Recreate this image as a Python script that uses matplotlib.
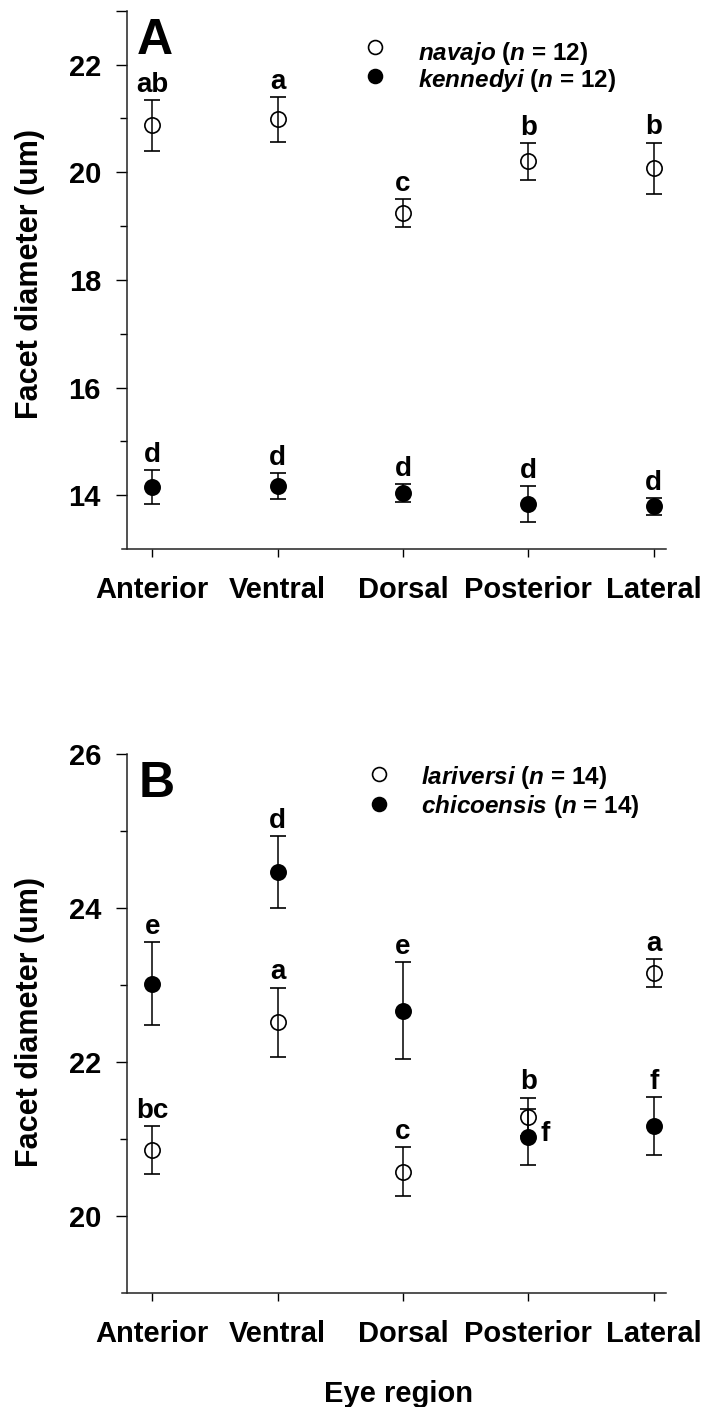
import matplotlib.pyplot as plt
from matplotlib.ticker import FixedLocator

# --- data ---
regions = ["Anterior", "Ventral", "Dorsal", "Posterior", "Lateral"]

# panel A
navajo_mean = [20.87, 20.98, 19.24, 20.20, 20.07]
navajo_se = [0.47, 0.41, 0.26, 0.34, 0.48]
navajo_grp = ["ab", "a", "c", "b", "b"]
kennedyi_mean = [14.15, 14.17, 14.04, 13.84, 13.79]
kennedyi_se = [0.32, 0.24, 0.16, 0.33, 0.16]
kennedyi_grp = ["d", "d", "d", "d", "d"]
n_a = [12, 12]

# panel B
lariversi_mean = [20.86, 22.52, 20.58, 21.29, 23.16]
lariversi_se = [0.31, 0.45, 0.32, 0.25, 0.18]
lariversi_grp = ["bc", "a", "c", "b", "a"]
chicoensis_mean = [23.02, 24.47, 22.67, 21.03, 21.17]
chicoensis_se = [0.54, 0.47, 0.63, 0.36, 0.38]
chicoensis_grp = ["e", "d", "e", "f", "f"]
n_b = [14, 14]

plt.rcParams['font.family'] = ['Liberation Sans', 'DejaVu Sans']
plt.rcParams['font.weight'] = 'bold'
plt.rcParams['mathtext.fontset'] = 'custom'
plt.rcParams['mathtext.it'] = 'Liberation Sans:italic:bold'
plt.rcParams['mathtext.rm'] = 'Liberation Sans:bold'

W, H = 707, 1407
fig = plt.figure(figsize=(W / 100, H / 100), dpi=100)


def fx(x):
    return x / W


def fy(y):
    return 1 - y / H


x = list(range(1, len(regions) + 1))


def draw_series(ax, mean, se, grp, filled, right_labels=()):
    ax.errorbar(x, mean, yerr=se, fmt='o', ms=11, mew=1.2,
                mfc='k' if filled else 'none', mec='k',
                ecolor='k', elinewidth=1.1, capsize=5.75, capthick=1.1,
                clip_on=False, zorder=3)
    for i, (m, s, g) in enumerate(zip(mean, se, grp)):
        if i in right_labels:
            ax.annotate(g, (x[i], m), xytext=(8.5, -2.6), textcoords='offset points',
                        ha='left', va='baseline', fontsize=20, fontweight='bold')
        else:
            ax.annotate(g, (x[i], m + s), xytext=(0, 6), textcoords='offset points',
                        ha='center', va='baseline', fontsize=20, fontweight='bold')


def style_axes(ax, ylim, major, labels, minor):
    ax.set_xlim(0.8, 5.1)
    ax.set_ylim(*ylim)
    ax.spines['top'].set_visible(False)
    ax.spines['right'].set_visible(False)
    ax.spines['bottom'].set_bounds(0.755, 5.1)
    for s in ('left', 'bottom'):
        ax.spines[s].set_linewidth(1.1)
        ax.spines[s].set_color('#222222')
    ax.set_xticks(x)
    ax.set_xticklabels(regions, fontsize=21, fontweight='bold')
    ax.yaxis.set_major_locator(FixedLocator(major))
    ax.set_yticklabels(labels, fontsize=21, fontweight='bold')
    ax.yaxis.set_minor_locator(FixedLocator(minor))
    ax.tick_params(axis='y', which='major', direction='out', length=8, width=1, pad=11)
    ax.tick_params(axis='y', which='minor', direction='out', length=5, width=1)
    ax.tick_params(axis='x', which='major', direction='out', length=5.5, width=1, pad=14)


# ---------------- panel A ----------------
axA = fig.add_axes([fx(127.3), fy(549), 539 / W, 538.3 / H])
draw_series(axA, navajo_mean, navajo_se, navajo_grp, False)
draw_series(axA, kennedyi_mean, kennedyi_se, kennedyi_grp, True)
style_axes(axA, (13, 23), [14, 16, 18, 20, 22, 23],
           ['14', '16', '18', '20', '22', ''], [15, 17, 19, 21])

# ---------------- panel B ----------------
axB = fig.add_axes([fx(127.3), fy(1293.3), 539 / W, 539 / H])
draw_series(axB, lariversi_mean, lariversi_se, lariversi_grp, False)
draw_series(axB, chicoensis_mean, chicoensis_se, chicoensis_grp, True, right_labels=(3,))
style_axes(axB, (19, 26), [20, 22, 24, 26], ['20', '22', '24', '26'], [21, 23, 25])

# panel letters
fig.text(fx(137), fy(54), "A", fontsize=36, fontweight='bold', va='baseline', ha='left')
fig.text(fx(139), fy(797), "B", fontsize=36, fontweight='bold', va='baseline', ha='left')

# legends (drawn by hand to match the layout)
legend_rows = [
    ("navajo", n_a[0], False, 375, 47, 418, 60),
    ("kennedyi", n_a[1], True, 375, 76, 418, 87),
    ("lariversi", n_b[0], False, 379, 774, 421, 784),
    ("chicoensis", n_b[1], True, 379, 804, 421, 813),
]
for name, n, filled, mx, my, tx, ty in legend_rows:
    fig.add_artist(plt.Line2D([fx(mx)], [fy(my)], transform=fig.transFigure,
                              marker='o', ms=10, mew=1.2, mec='k',
                              mfc='k' if filled else 'none', ls='none'))
    fig.text(fx(tx), fy(ty), r"$\mathit{%s}$ ($\mathit{n}$ = %d)" % (name, n),
             fontsize=17.5, fontweight='bold', va='baseline', ha='left')

# axis titles
for yc in (274, 1022):
    fig.text(fx(30), fy(yc), "Facet diameter (um)", rotation=90, fontsize=22,
             fontweight='bold', ha='center', va='center')
fig.text(fx(398), fy(1401.5), "Eye region", fontsize=21, fontweight='bold',
         ha='center', va='baseline')

fig.savefig("out.png", dpi=100)
